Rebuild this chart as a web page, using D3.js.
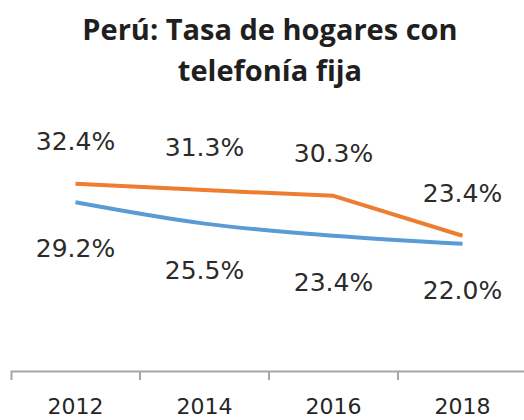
<!DOCTYPE html>
<html>
<head>
<meta charset="utf-8">
<script src="https://cdn.jsdelivr.net/npm/d3@7"></script>
<style>
html,body{margin:0;padding:0;background:#fff;}
svg{display:block;}
</style>
</head>
<body>
<svg id="chart" width="524" height="420"></svg>
<script>
const years = ["2012", "2014", "2016", "2018"];
const seriesOrange = [32.4, 31.3, 30.3, 23.4];
const seriesBlue = [29.2, 25.5, 23.4, 22.0];
const titleLines = ["Perú: Tasa de hogares con", "telefonía fija"];

const svg = d3.select("#chart");

const x = d3.scaleBand().domain(years).range([11, 527]).padding(0);
const y = d3.scaleLinear().domain([0, 40]).range([371, 139.8]);

// title
svg.append("g").selectAll("text").data(titleLines).join("text")
  .attr("x", 270).attr("y", (d, i) => 40 + i * 41)
  .attr("text-anchor", "middle")
  .attr("font-family", "'Open Sans', Lato, sans-serif")
  .attr("font-weight", "bold")
  .attr("font-size", 29)
  .attr("letter-spacing", 0)
  .attr("fill", "#1f1f1f")
  .text(d => d);

// axis
const axis = d3.axisBottom(x).tickSizeInner(0).tickSizeOuter(9).tickPadding(27);
const gx = svg.append("g").attr("transform", "translate(0,371)").call(axis);
gx.select(".domain").attr("stroke", "#a6a6a6").attr("stroke-width", 2).attr("fill", "none");
gx.selectAll(".tick text")
  .attr("font-family", "'DejaVu Sans', Verdana, sans-serif")
  .attr("font-size", 22)
  .attr("fill", "#262626");
gx.selectAll(".tick line").remove();
// boundary ticks between categories
gx.selectAll(".bt").data(years.slice(1)).join("line")
  .attr("class", "bt")
  .attr("x1", d => x(d)).attr("x2", d => x(d))
  .attr("y1", 0).attr("y2", 9)
  .attr("stroke", "#a6a6a6").attr("stroke-width", 2);

const cx = d => x(d) + x.bandwidth() / 2;

const lineLinear = d3.line().x((d, i) => cx(years[i])).y(d => y(d));
const lineSmooth = d3.line().x((d, i) => cx(years[i])).y(d => y(d)).curve(d3.curveMonotoneX);

svg.append("path").datum(seriesBlue)
  .attr("d", lineSmooth).attr("fill", "none")
  .attr("stroke", "#5B9BD5").attr("stroke-width", 4).attr("stroke-linecap", "butt");
svg.append("path").datum(seriesOrange)
  .attr("d", lineLinear).attr("fill", "none")
  .attr("stroke", "#ED7D31").attr("stroke-width", 4).attr("stroke-linecap", "butt")
  .attr("stroke-linejoin", "round");

const fmt = v => v.toFixed(1) + "%";
const labelFont = "'DejaVu Sans', Verdana, sans-serif";

svg.append("g").selectAll("text").data(seriesOrange).join("text")
  .attr("x", (d, i) => cx(years[i]))
  .attr("y", d => y(d) - 43)
  .attr("dy", "0.36em")
  .attr("text-anchor", "middle")
  .attr("font-family", labelFont)
  .attr("font-size", 25)
  .attr("fill", "#2b2b2b")
  .text(fmt);

svg.append("g").selectAll("text").data(seriesBlue).join("text")
  .attr("x", (d, i) => cx(years[i]))
  .attr("y", d => y(d) + 46)
  .attr("dy", "0.36em")
  .attr("text-anchor", "middle")
  .attr("font-family", labelFont)
  .attr("font-size", 25)
  .attr("fill", "#2b2b2b")
  .text(fmt);
</script>
</body>
</html>
